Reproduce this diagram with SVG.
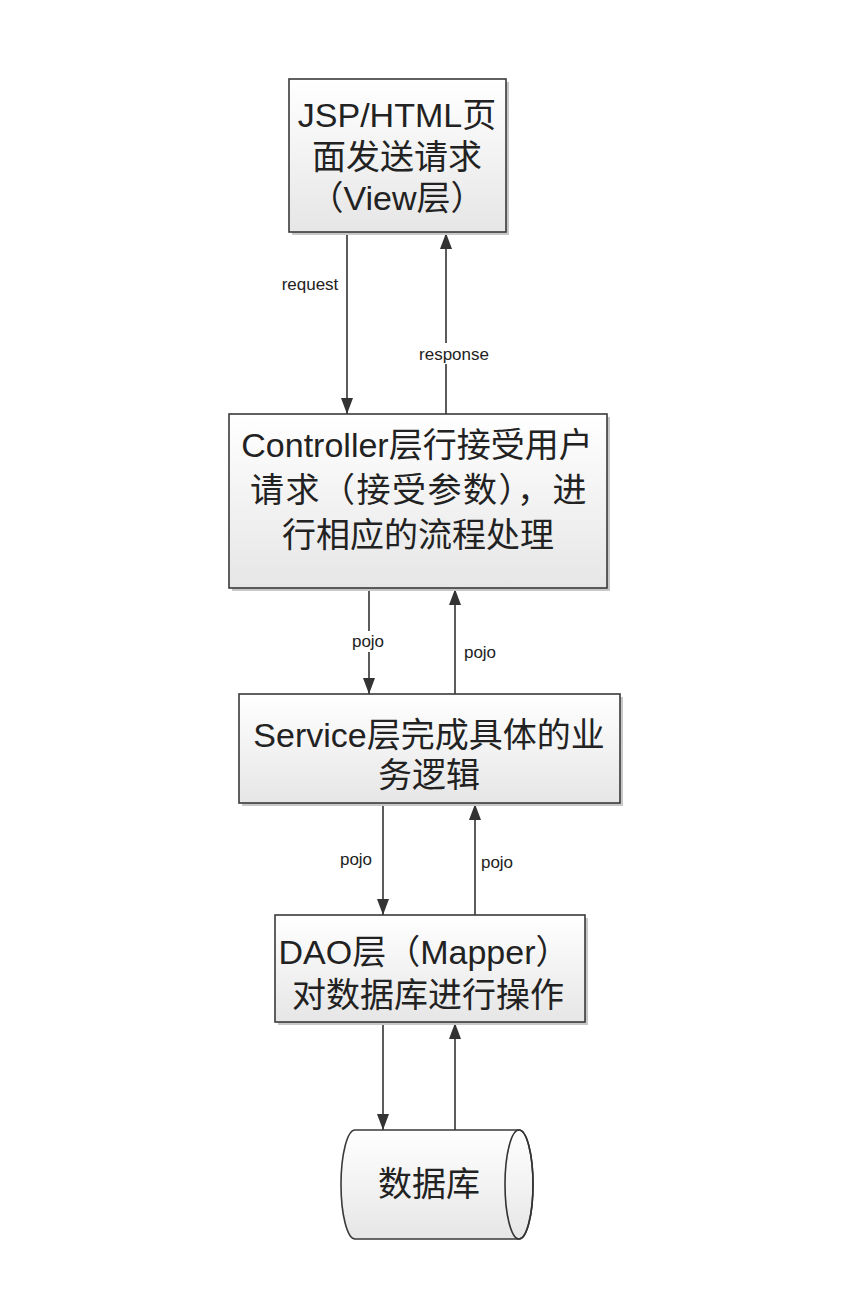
<svg xmlns="http://www.w3.org/2000/svg" width="846" height="1314" viewBox="0 0 846 1314">
<style>
.box{fill:url(#g);stroke:#3a3a3a;stroke-width:1.6}
.sh{fill:#c8c8c8}
.t{font-family:"Liberation Sans","Noto Sans CJK SC",sans-serif;font-size:34px;fill:#222;text-anchor:middle}
.l{font-family:"Liberation Sans",sans-serif;font-size:17px;fill:#222;text-anchor:middle}
.c{stroke:#333;stroke-width:1.6;fill:none}
</style>
<defs>
<linearGradient id="g" x1="0" y1="0" x2="0" y2="1">
<stop offset="0" stop-color="#ffffff"/>
<stop offset="1" stop-color="#e6e6e6"/>
</linearGradient>
<marker id="b" viewBox="0 0 16 12" refX="16" refY="6" markerWidth="16" markerHeight="12" markerUnits="userSpaceOnUse" orient="auto">
<path d="M0,0 L16,6 L0,12 z" fill="#333"/>
</marker>
</defs>
<rect width="846" height="1314" fill="#fff"/>

<g id="connectors">
<line class="c" x1="347" y1="233" x2="347" y2="414" marker-end="url(#b)"/>
<line class="c" x1="446" y1="414" x2="446" y2="233" marker-end="url(#b)"/>
<line class="c" x1="369" y1="589" x2="369" y2="694" marker-end="url(#b)"/>
<line class="c" x1="455" y1="694" x2="455" y2="589" marker-end="url(#b)"/>
<line class="c" x1="383" y1="804" x2="383" y2="915" marker-end="url(#b)"/>
<line class="c" x1="475" y1="915" x2="475" y2="804" marker-end="url(#b)"/>
<line class="c" x1="383" y1="1023" x2="383" y2="1130" marker-end="url(#b)"/>
<line class="c" x1="455" y1="1130" x2="455" y2="1023" marker-end="url(#b)"/>
<text class="l" x="310" y="290">request</text>
<rect x="413" y="343" width="82" height="21" fill="#fff"/>
<text class="l" x="454" y="360">response</text>
<rect x="346" y="631" width="44" height="21" fill="#fff"/>
<text class="l" x="368" y="647">pojo</text>
<text class="l" x="480" y="658">pojo</text>
<text class="l" x="356" y="865">pojo</text>
<text class="l" x="497" y="868">pojo</text>
</g>

<g id="view">
<rect class="sh" x="292" y="82" width="217" height="153"/>
<rect class="box" x="289" y="79" width="217" height="153"/>
<text class="t" x="397" y="127">JSP/HTML页</text>
<text class="t" x="397" y="169">面发送请求</text>
<text class="t" x="397" y="210">（View层）</text>
</g>

<g id="controller">
<rect class="sh" x="232" y="417" width="378" height="174"/>
<rect class="box" x="229" y="414" width="378" height="174"/>
<text class="t" x="417" y="457">Controller层行接受用户</text>
<text class="t" x="419" y="502" letter-spacing="1.5">请求（接受参数），进</text>
<text class="t" x="418" y="547">行相应的流程处理</text>
</g>

<g id="service">
<rect class="sh" x="242" y="697" width="381" height="109"/>
<rect class="box" x="239" y="694" width="381" height="109"/>
<text class="t" x="429" y="747">Service层完成具体的业</text>
<text class="t" x="429" y="787">务逻辑</text>
</g>

<g id="dao">
<rect class="sh" x="278" y="918" width="310" height="107"/>
<rect class="box" x="275" y="915" width="310" height="107"/>
<text class="t" x="424" y="964">DAO层（Mapper）</text>
<text class="t" x="428" y="1007">对数据库进行操作</text>
</g>

<g id="database">
<path d="M355,1130 L519,1130 A14,54.5 0 0 1 519,1239 L355,1239 A14,54.5 0 0 1 355,1130 Z" class="box"/>
<ellipse class="c" cx="519" cy="1184.5" rx="14" ry="54.5"/>
<text class="t" x="429" y="1196">数据库</text>
</g>
</svg>
